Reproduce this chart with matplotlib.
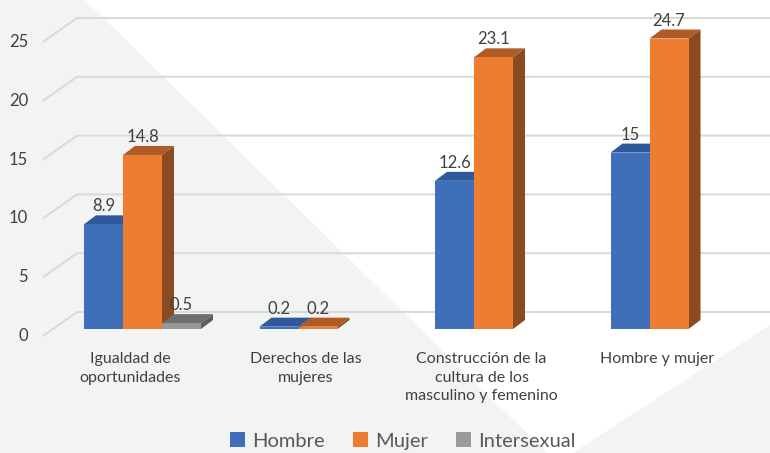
import matplotlib.pyplot as plt
from matplotlib.patches import Polygon, Patch

plt.rcParams["font.family"] = ["Lato", "DejaVu Sans"]

categories = [
    "Igualdad de\noportunidades",
    "Derechos de las\nmujeres",
    "Construcción de la\ncultura de los\nmasculino y femenino",
    "Hombre y mujer",
]
series_names = ["Hombre", "Mujer", "Intersexual"]
hombre = [8.9, 0.2, 12.6, 15]
mujer = [14.8, 0.2, 23.1, 24.7]
intersexual = [0.5, None, None, None]
y_ticks = [0, 5, 10, 15, 20, 25]

# front, top, side colours per series
front_colors = ["#3F6FB8", "#ED7D31", "#979797"]
top_colors = ["#2E5A9C", "#B05A26", "#6E6E6E"]
side_colors = ["#2A4F88", "#8A4B20", "#5E5E5E"]
legend_colors = ["#3F6FB8", "#ED7D31", "#9A9A9A"]
text_color = "#404040"
grid_color = "#D9D9D9"

# pixel scale of the picture
W, H = 770, 453
PX = 175.5   # px per category
PY = 11.76   # px per unit
BAR_W = 39 / PX


def dx(px):
    return px / PX


def dy(px):
    return px / PY


fig = plt.figure(figsize=(W / 100, H / 100), dpi=100)
fig.patch.set_facecolor("#F2F3F3")

# background shapes
bg = fig.add_axes([0, 0, 1, 1])
bg.set_xlim(0, W)
bg.set_ylim(H, 0)
bg.axis("off")
bg.add_patch(Polygon([(85, 0), (W, 0), (W, 325), (573, H), (547, H)],
                     closed=True, facecolor="white", edgecolor="none"))

ax = fig.add_axes([0, 0, 1, 1])
ax.set_facecolor("none")
ax.set_xlim(-142.5 / PX, (W - 142.5) / PX)
ax.set_ylim((329 - H) / PY, 329 / PY)
ax.axis("off")

# floor / walls geometry
x_front = -dx(142.5 - 43)
x_back = x_front + dx(34)
x_right = (W - 142.5) / PX
for t in y_ticks:
    ax.plot([x_front, x_back, x_right], [t - dy(7), t + dy(17), t + dy(17)],
            color=grid_color, lw=1.4, zorder=1, solid_capstyle="butt")
    ax.text(x_front - dx(15), t - dy(7), str(t), ha="right", va="center",
            fontsize=12, color=text_color)

# bars with pseudo 3D depth
ddx, ddy = dx(12), dy(9)
all_series = [hombre, mujer, intersexual]
for i in range(len(categories)):
    for j, values in enumerate(all_series):
        v = values[i]
        if v is None:
            continue
        xc = i + (j - 1) * BAR_W
        x0, x1 = xc - BAR_W / 2, xc + BAR_W / 2
        z = 2 + 3 * j
        ax.add_patch(Polygon([(x1, 0), (x1 + ddx, ddy), (x1 + ddx, v + ddy), (x1, v)],
                             facecolor=side_colors[j], edgecolor="none", zorder=z))
        ax.add_patch(Polygon([(x0, v), (x1, v), (x1 + ddx, v + ddy), (x0 + ddx, v + ddy)],
                             facecolor=top_colors[j], edgecolor="none", zorder=z + 1))
        ax.bar(xc, v, width=BAR_W, color=front_colors[j], zorder=z + 2)
        ax.text(xc, v + dy(13), f"{v:g}", ha="center", va="baseline",
                fontsize=12, color=text_color, zorder=20)

for i, label in enumerate(categories):
    ax.text(i - dx(12), -dy(352 - 329), label, ha="center", va="top",
            fontsize=11.5, color=text_color, linespacing=1.42)

handles = [Patch(facecolor=c, edgecolor="none") for c in legend_colors]
leg = fig.legend(handles, series_names, loc="center", bbox_to_anchor=(0.523, 1 - 441 / H),
                 ncol=3, frameon=False, fontsize=14.5, handlelength=0.75, handleheight=0.75,
                 handletextpad=0.35, columnspacing=1.4)
for t in leg.get_texts():
    t.set_color("#595959")

fig.savefig("out.png", dpi=100, facecolor=fig.get_facecolor())
